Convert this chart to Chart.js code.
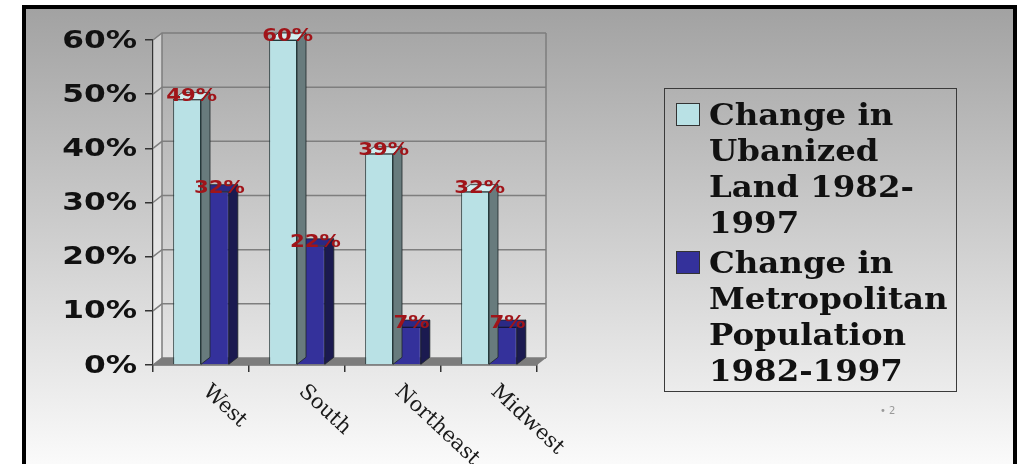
<!DOCTYPE html>
<html>
<head>
<meta charset="utf-8">
<script src="https://cdn.jsdelivr.net/npm/chart.js@4"></script>
<style>
  html, body { margin: 0; padding: 0; background: #fff; }
  #frame {
    position: absolute; left: 22px; top: 5px; width: 987px; height: 459px;
    border: 4px solid #000; border-bottom: none;
    background: linear-gradient(#a2a2a2, #fbfbfb);
  }
  #chart { position: absolute; left: 0; top: 0; }
  #legend {
    position: absolute; left: 664px; top: 88px; width: 291px; height: 302px;
    border: 1.5px solid #3a3a3a;
    font: bold 30px "DejaVu Serif", serif; line-height: 36px; color: #111;
  }
  .item { position: absolute; left: 11px; }
  .sw { position: absolute; left: 0; top: 6px; width: 22px; height: 21px; border: 1px solid #333; }
  .txt { position: absolute; left: 33px; top: 0; white-space: nowrap; transform: scaleX(1.08); transform-origin: left top; }
  #note { position: absolute; left: 880px; top: 405px; font: 10px "DejaVu Sans"; color: #999; }
</style>
</head>
<body>
<div id="frame"></div>
<canvas id="chart" width="1018" height="464"></canvas>
<div id="legend"></div>
<div id="note">• 2</div>
<script>
const regions = ['West', 'South', 'Northeast', 'Midwest'];
const urbanLand = [49, 60, 39, 32];
const metroPop = [32, 22, 7, 7];
const yTicks = [0, 10, 20, 30, 40, 50, 60];
const seriesNames = ['Change in Ubanized Land 1982-1997', 'Change in Metropolitan Population 1982-1997'];
const legendLines = [
  ['Change in', 'Ubanized', 'Land 1982-', '1997'],
  ['Change in', 'Metropolitan', 'Population', '1982-1997']
];

const fronts = ['#b9e1e5', '#34319b'];
const sides = ['#687b7d', '#1b1a50'];
const tops = ['#d2eef0', '#2b2985'];
const DX = 9, DY = 7;

// legend as html
const legendTops = [8, 156];
legendLines.forEach((lines, i) => {
  const d = document.createElement('div');
  d.className = 'item';
  d.style.top = legendTops[i] + 'px';
  d.innerHTML = '<span class="sw" style="background:' + fronts[i] + '"></span><span class="txt">' + lines.join('<br>') + '</span>';
  document.getElementById('legend').appendChild(d);
});

const walls = {
  id: 'walls',
  beforeDatasetsDraw(chart) {
    const ctx = chart.ctx, a = chart.chartArea, y = chart.scales.y;
    ctx.save();
    // side wall
    ctx.fillStyle = 'rgba(255,255,255,0.45)';
    ctx.beginPath();
    ctx.moveTo(a.left, a.top); ctx.lineTo(a.left + DX, a.top - DY);
    ctx.lineTo(a.left + DX, a.bottom - DY); ctx.lineTo(a.left, a.bottom);
    ctx.closePath(); ctx.fill();
    // grid on back wall
    ctx.strokeStyle = '#7e7e7e'; ctx.lineWidth = 1.5;
    yTicks.forEach(v => {
      const py = y.getPixelForValue(v);
      ctx.beginPath();
      ctx.moveTo(a.left, py); ctx.lineTo(a.left + DX, py - DY); ctx.lineTo(a.right + DX, py - DY);
      ctx.stroke();
    });
    ctx.beginPath();
    ctx.moveTo(a.left + DX, a.top - DY); ctx.lineTo(a.left + DX, a.bottom - DY);
    ctx.moveTo(a.right + DX, a.top - DY); ctx.lineTo(a.right + DX, a.bottom - DY);
    ctx.stroke();
    // floor
    ctx.fillStyle = '#7c7c7c';
    ctx.beginPath();
    ctx.moveTo(a.left, a.bottom); ctx.lineTo(a.right, a.bottom);
    ctx.lineTo(a.right + DX, a.bottom - DY); ctx.lineTo(a.left + DX, a.bottom - DY);
    ctx.closePath(); ctx.fill();
    ctx.restore();
  }
};

const bars3d = {
  id: 'bars3d',
  beforeDatasetDraw(chart, args) {
    const ctx = chart.ctx, i = args.index;
    chart.getDatasetMeta(i).data.forEach(bar => {
      const p = bar.getProps(['x', 'y', 'base', 'width'], true);
      const l = p.x - p.width / 2, r = p.x + p.width / 2;
      ctx.save();
      ctx.lineWidth = 0.8; ctx.strokeStyle = '#1e2628';
      ctx.fillStyle = sides[i];
      ctx.beginPath();
      ctx.moveTo(r, p.y); ctx.lineTo(r + DX, p.y - DY); ctx.lineTo(r + DX, p.base - DY); ctx.lineTo(r, p.base);
      ctx.closePath(); ctx.fill(); ctx.stroke();
      ctx.fillStyle = tops[i];
      ctx.beginPath();
      ctx.moveTo(l, p.y); ctx.lineTo(l + DX, p.y - DY); ctx.lineTo(r + DX, p.y - DY); ctx.lineTo(r, p.y);
      ctx.closePath(); ctx.fill(); ctx.stroke();
      ctx.restore();
    });
  },
  afterDatasetsDraw(chart) {
    const ctx = chart.ctx;
    ctx.save();
    ctx.font = 'bold 17px "DejaVu Sans"';
    ctx.fillStyle = '#a01419';
    ctx.textAlign = 'center';
    ctx.textBaseline = 'alphabetic';
    chart.data.datasets.forEach((ds, i) => {
      chart.getDatasetMeta(i).data.forEach((bar, j) => {
        ctx.save();
        ctx.translate(bar.x + DX / 2, bar.y + 1);
        ctx.scale(1.25, 1);
        ctx.fillText(ds.data[j] + '%', 0, 0);
        ctx.restore();
      });
    });
    ctx.restore();
  },
  afterDraw(chart) {
    const ctx = chart.ctx, xs = chart.scales.x, ys = chart.scales.y;
    ctx.save();
    // category labels, slanted downwards
    ctx.font = '21px "DejaVu Serif"';
    ctx.fillStyle = '#1a1a1a';
    ctx.textAlign = 'left';
    ctx.textBaseline = 'top';
    regions.forEach((name, i) => {
      ctx.save();
      ctx.translate(xs.getPixelForValue(i) + 12, 381);
      ctx.rotate(43 * Math.PI / 180);
      ctx.fillText(name, 0, 0);
      ctx.restore();
    });
    // value axis labels (wide bold face)
    ctx.font = 'bold 25px "DejaVu Sans"';
    ctx.fillStyle = '#111';
    ctx.textAlign = 'right';
    ctx.textBaseline = 'middle';
    ys.ticks.forEach(t => {
      ctx.save();
      ctx.translate(137, ys.getPixelForValue(t.value) + 1);
      ctx.scale(1.25, 1);
      ctx.fillText(t.value + '%', 0, 0);
      ctx.restore();
    });
    ctx.restore();
  }
};

new Chart(document.getElementById('chart'), {
  type: 'bar',
  data: {
    labels: regions,
    datasets: [
      { label: seriesNames[0], data: urbanLand, backgroundColor: fronts[0], borderColor: '#24393b', borderWidth: 1 },
      { label: seriesNames[1], data: metroPop, backgroundColor: fronts[1], borderColor: '#15143d', borderWidth: 1 }
    ]
  },
  options: {
    responsive: false,
    animation: false,
    layout: { padding: { left: 0, right: 481, top: 40, bottom: 0 } },
    datasets: { bar: { categoryPercentage: 0.58, barPercentage: 1 } },
    plugins: { legend: { display: false }, tooltip: { enabled: false } },
    scales: {
      x: {
        afterFit: s => { s.height = 99; },
        ticks: { display: false },
        grid: { offset: true, drawOnChartArea: false, tickLength: 7, color: '#333', lineWidth: 1.5 },
        border: { color: '#333', width: 1.5 }
      },
      y: {
        min: 0, max: 60,
        afterFit: s => { s.width = 153; },
        afterBuildTicks: s => { s.ticks = yTicks.map(v => ({ value: v })); },
        ticks: { display: false },
        grid: { drawOnChartArea: false, tickLength: 8, color: '#333', lineWidth: 1.5 },
        border: { color: '#333', width: 1.5 }
      }
    }
  },
  plugins: [walls, bars3d]
});
</script>
</body>
</html>
